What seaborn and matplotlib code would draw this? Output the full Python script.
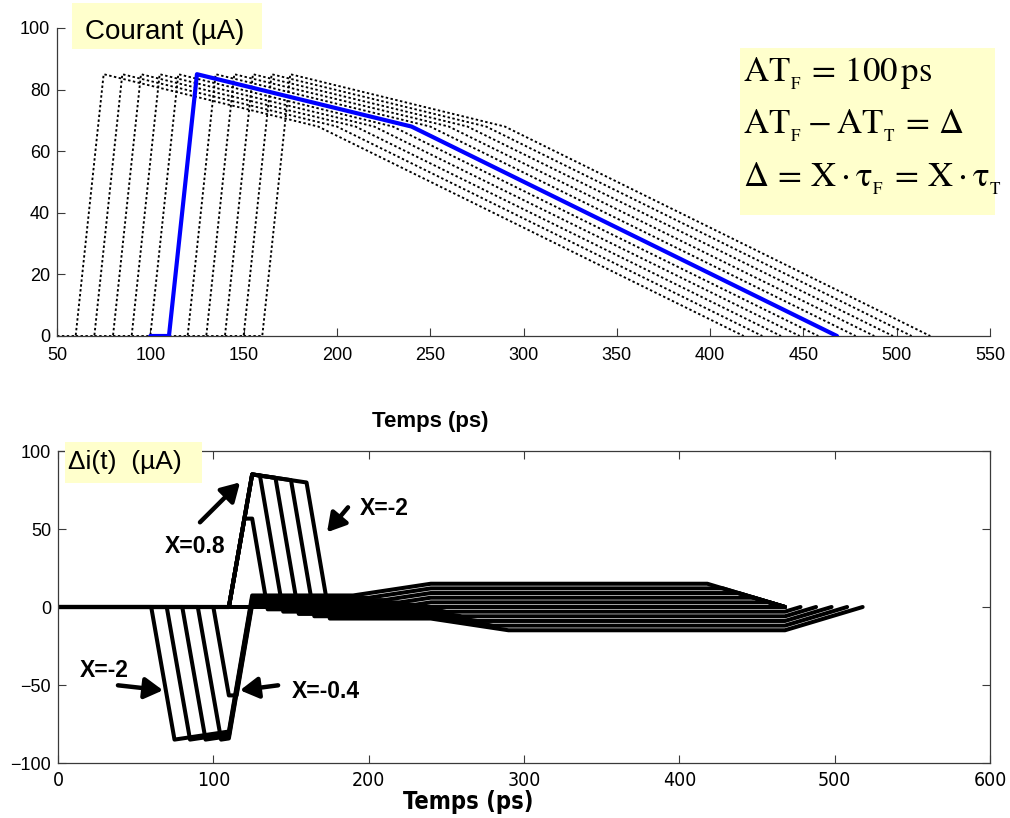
import numpy as np
import pandas as pd
import matplotlib
matplotlib.use("Agg")
import matplotlib.pyplot as plt
import matplotlib.patches as mpatches
import seaborn as sns

# ---- data -------------------------------------------------------------
# reference current pulse (arrival time AT_F = 100 ps)
pulse_time = np.array([100.0, 110.0, 125.0, 240.0, 468.0])   # ps
pulse_current = np.array([0.0, 0.0, 85.0, 68.0, 0.0])        # uA
tau = 25.0                                                   # ps
x_factors = [-2.0, -1.6, -1.2, -0.8, -0.4, 0.0, 0.4, 0.8, 1.2, 1.6, 2.0]

top_xticks = [50, 100, 150, 200, 250, 300, 350, 400, 450, 500, 550]
top_yticks = [0, 20, 40, 60, 80, 100]
bot_xticks = [0, 100, 200, 300, 400, 500, 600]
bot_yticks = [-100, -50, 0, 50, 100]

# ---- style ------------------------------------------------------------
sns.set_theme(style="ticks")
plt.rcParams["font.family"] = ["Liberation Sans", "DejaVu Sans"]
plt.rcParams["mathtext.fontset"] = "stix"
for key in ("text.color", "axes.labelcolor", "xtick.labelcolor", "ytick.labelcolor"):
    plt.rcParams[key] = "black"

W, H = 1010, 818
fig = plt.figure(figsize=(W / 100, H / 100), dpi=100)
fig.patch.set_facecolor("white")


def fbox(x0, y0, x1, y1):
    """axes rectangle from pixel edges (top-left origin)"""
    return [x0 / W, 1 - y1 / H, (x1 - x0) / W, (y1 - y0) / H]


ax1 = fig.add_axes(fbox(57, 28, 990, 336))
ax2 = fig.add_axes(fbox(58, 451, 990, 763))
spine_col = "#3a3a3a"

# ---- top: shifted current pulses --------------------------------------
rows = []
for X in x_factors:
    shift = X * tau
    for t, i in zip(pulse_time + shift, pulse_current):
        rows.append({"X": X, "t": t, "i": i})
pulses = pd.DataFrame(rows)

for X in x_factors:
    if X == 0:
        continue
    d = pulses[pulses["X"] == X]
    sns.lineplot(data=d, x="t", y="i", ax=ax1, color="black", lw=1.35,
                 linestyle=(0, (1.3, 1.3)), sort=False, estimator=None)
d0 = pulses[pulses["X"] == 0]
sns.lineplot(data=d0, x="t", y="i", ax=ax1, color="#0000FF", lw=3.0,
             sort=False, estimator=None, zorder=5)

ax1.set_xlim(50, 550)
ax1.set_ylim(0, 100)
ax1.set_xticks(top_xticks)
ax1.set_yticks(top_yticks)
ax1.spines["top"].set_visible(False)
ax1.spines["right"].set_visible(False)
ax1.set_ylabel("")
ax1.set_xlabel("Temps (ps)", fontsize=16, fontweight="bold")
ax1.xaxis.set_label_coords(0.40, -0.245)
ax1.tick_params(direction="in", length=6, width=0.8, color=spine_col,
                labelsize=13, pad=8)
ax1.tick_params(axis="y", pad=5)

# ---- bottom: current differences --------------------------------------
rows = []
for X in x_factors:
    shift = X * tau
    grid = np.unique(np.concatenate([[0.0], pulse_time, pulse_time + shift]))
    end = pulse_time[-1] + max(0.0, shift)
    grid = grid[grid <= end]
    ref = np.interp(grid, pulse_time, pulse_current, left=0, right=0)
    sh = np.interp(grid, pulse_time + shift, pulse_current, left=0, right=0)
    for t, v in zip(grid, ref - sh):
        rows.append({"X": X, "t": t, "di": v})
diffs = pd.DataFrame(rows)

for X in x_factors:
    d = diffs[diffs["X"] == X]
    sns.lineplot(data=d, x="t", y="di", ax=ax2, color="black", lw=2.9,
                 sort=False, estimator=None)

ax2.set_xlim(0, 600)
ax2.set_ylim(-100, 100)
ax2.set_xticks(bot_xticks)
ax2.set_yticks(bot_yticks)
ax2.set_ylabel("")
ax2.set_xlabel("Temps (ps)", fontsize=17, fontweight="bold",
               family="DejaVu Sans", fontstretch="condensed")
ax2.xaxis.set_label_coords(0.44, -0.085)
ax2.tick_params(direction="in", length=6, width=0.8, color=spine_col,
                labelsize=13, top=True, right=True)
ax2.tick_params(axis="x", pad=6)
ax2.tick_params(axis="y", pad=5)
for lab in ax2.get_xticklabels():
    lab.set_family("DejaVu Sans")
    lab.set_fontstretch("condensed")
    lab.set_fontsize(14)

for ax in (ax1, ax2):
    for s in ax.spines.values():
        s.set_color(spine_col)
        s.set_linewidth(0.9)

# ---- annotations on the difference plot --------------------------------
arrow_kw = dict(arrowstyle="-|>,head_length=0.55,head_width=0.32", lw=3.2,
                color="black", shrinkA=0, shrinkB=0, mutation_scale=20)
notes = [
    ("X=0.8", (68.9, 34.4), (91.4, 54.3), (117.2, 79.9)),
    ("X=-2", (194.5, 58.8), (186.7, 63.9), (173.2, 47.9)),
    ("X=-2", (14.2, -45.1), (38.6, -50.2), (67.6, -53.4)),
    ("X=-0.4", (150.7, -58.5), (141.7, -50.2), (117.2, -53.4)),
]
for label, tpos, tail, head in notes:
    ax2.annotate("", xy=head, xytext=tail, arrowprops=arrow_kw, zorder=6)
    ax2.text(tpos[0], tpos[1], label, fontsize=16.5, fontweight="bold",
             ha="left", va="baseline", zorder=6)

# ---- title boxes ---------------------------------------------------------
box_col = "#FFFFCC"


def label_box(x0, y0, x1, y1):
    r = mpatches.Rectangle((x0 / W, 1 - y1 / H), (x1 - x0) / W, (y1 - y0) / H,
                           transform=fig.transFigure, facecolor=box_col,
                           edgecolor="none", zorder=10)
    fig.patches.append(r)


label_box(72, 3, 262, 49)
fig.text(85 / W, 1 - 39 / H, "Courant (µA)", fontsize=20, ha="left",
         va="baseline", zorder=11)

label_box(65, 442, 202, 483)
fig.text(68 / W, 1 - 469 / H, "Δi(t)  (µA)", fontsize=19, ha="left",
         va="baseline", zorder=11)

label_box(740, 48, 995, 215)
formula_lines = [
    (82, r"$\mathrm{AT}_{_\mathrm{F}}\,=\,100\,\mathrm{ps}$"),
    (134, r"$\mathrm{AT}_{_\mathrm{F}}-\mathrm{AT}_{_\mathrm{T}}\,=\,\Delta$"),
    (187, r"$\Delta\,=\,\mathrm{X}\cdot\mathrm{τ}_{_\mathrm{F}}\,=\,\mathrm{X}\cdot\mathrm{τ}_{_\mathrm{T}}$"),
]
for yb, txt in formula_lines:
    fig.text(743 / W, 1 - yb / H, txt, fontsize=25, ha="left", va="baseline",
             zorder=11)

fig.savefig("out.png", dpi=100, facecolor="white")
